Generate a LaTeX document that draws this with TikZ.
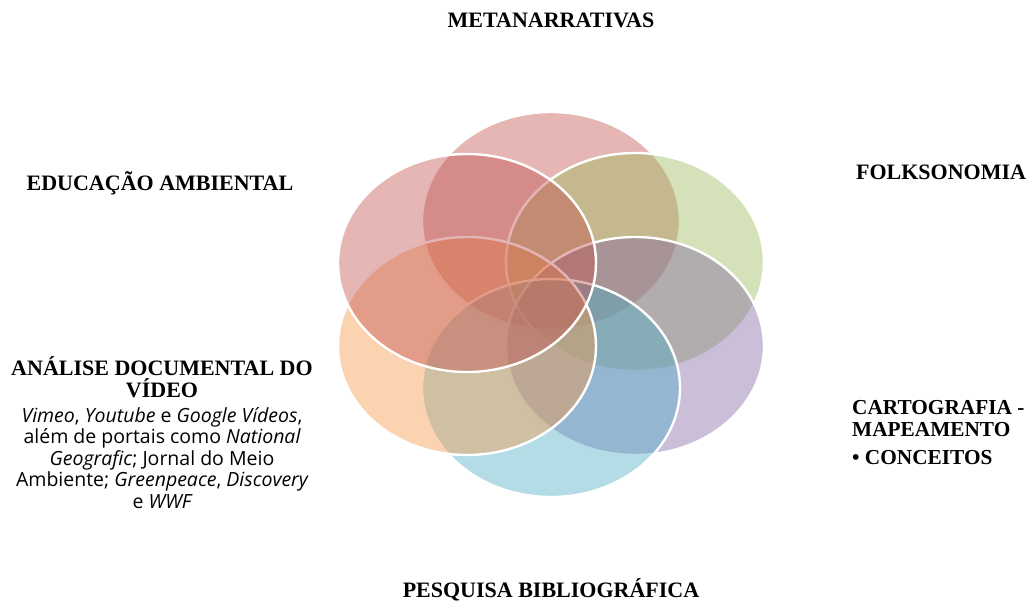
\documentclass[tikz,border=0pt]{standalone}
\usepackage{fontspec}
\setmainfont{Liberation Serif}
\newfontfamily\bodyfont{Open Sans}
\usetikzlibrary{shapes.geometric}
\definecolor{cred}{HTML}{C0504D}
\definecolor{cgreen}{HTML}{9BBB59}
\definecolor{cpurple}{HTML}{8064A2}
\definecolor{caqua}{HTML}{4BACC6}
\definecolor{corange}{HTML}{F79646}
\tikzset{
  blob/.style={ellipse, minimum width=258pt, minimum height=218pt, inner sep=0pt,
    draw=white, line width=2.4pt, fill opacity=0.42},
  head/.style={font=\fontsize{22}{22}\selectfont\bfseries, inner sep=0pt},
  body/.style={font=\bodyfont\fontsize{19.5}{21.5}\selectfont, inner sep=0pt, align=center},
}
\begin{document}
\begin{tikzpicture}[x=1pt,y=-1pt]
\useasboundingbox (0,0) rectangle (1029,602);
\node[blob, fill=cred]    (top) at (551,221) {};
\node[blob, fill=cgreen]  (ur)  at (635,262) {};
\node[blob, fill=cpurple] (lr)  at (635,346) {};
\node[blob, fill=caqua]   (bot) at (551,388) {};
\node[blob, fill=corange] (ll)  at (467,346) {};
\node[blob, fill=cred]    (ul)  at (467,263) {};

\node[head] (tmeta) at (551,20) {METANARRATIVAS};
\node[head] (tfolk) at (941,172) {FOLKSONOMIA};
\node[head] (tedu)  at (160,183) {EDUCAÇÃO AMBIENTAL};
\node[head, align=center] (tana) at (162,377) {ANÁLISE DOCUMENTAL DO\\VÍDEO};
\node[body] (tbody) at (162,458) {\itshape Vimeo\upshape, \itshape Youtube\upshape{} e \itshape Google Vídeos\upshape,\\
além de portais como \itshape National\\
\itshape Geografic\upshape; Jornal do Meio\\
Ambiente; \itshape Greenpeace\upshape, \itshape Discovery\\
\upshape e \itshape WWF};
\node[head, font=\fontsize{21.3}{22}\selectfont\bfseries, align=left, anchor=west] (tcart) at (852,419) {CARTOGRAFIA -\\MAPEAMENTO};
\node[head, font=\fontsize{21.3}{22}\selectfont\bfseries, anchor=west] (tconc) at (852,458) {• CONCEITOS};
\node[head] (tpesq) at (551,590) {PESQUISA BIBLIOGRÁFICA};
\end{tikzpicture}
\end{document}
